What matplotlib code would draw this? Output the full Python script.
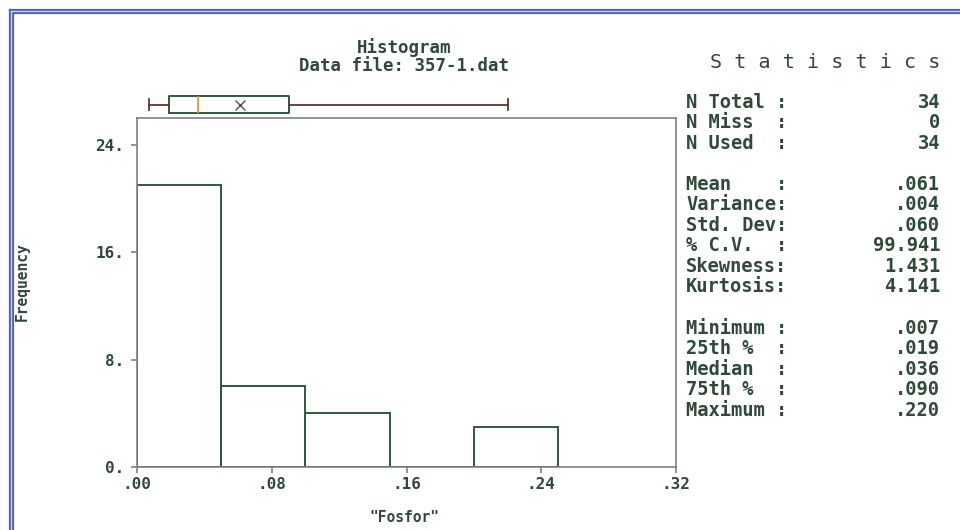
import matplotlib.pyplot as plt
from matplotlib.lines import Line2D

# histogram bins and counts
bin_edges = [0.00, 0.05, 0.10, 0.15, 0.20, 0.25]
counts = [21, 6, 4, 0, 3]

x_ticks = [0.00, 0.08, 0.16, 0.24, 0.32]
x_labels = [".00", ".08", ".16", ".24", ".32"]
y_ticks = [0, 8, 16, 24]
y_labels = ["0.", "8.", "16.", "24."]

# summary stats (box plot on top)
minimum, q25, median, q75, maximum = 0.007, 0.019, 0.036, 0.090, 0.220
mean = 0.061

stat_names = ["N Total :", "N Miss  :", "N Used  :", "",
              "Mean    :", "Variance:", "Std. Dev:", "% C.V.  :", "Skewness:", "Kurtosis:", "",
              "Minimum :", "25th %  :", "Median  :", "75th %  :", "Maximum :"]
stat_values = ["34", "0", "34", "",
               ".061", ".004", ".060", "99.941", "1.431", "4.141", "",
               ".007", ".019", ".036", ".090", ".220"]

W, H = 960, 530
txt = "#2f4a3a"
bar_col = "#2e5a3a"
spine_col = "#808080"
mono = "DejaVu Sans Mono"

fig = plt.figure(figsize=(W / 100, H / 100), dpi=100)
fig.patch.set_facecolor("white")


def fx(px):
    return px / W


def fy(py):
    return 1 - py / H


# double blue frame, top and left only
for off in [9.5, 12.5]:
    fig.add_artist(Line2D([fx(off), 1], [fy(off), fy(off)], color="#4f5fb0", lw=1.6))
    fig.add_artist(Line2D([fx(off), fx(off)], [fy(off), 0], color="#4f5fb0", lw=1.6))
fig.add_artist(Line2D([fx(11), 1], [fy(11), fy(11)], color="#c8ccf0", lw=1.0))
fig.add_artist(Line2D([fx(11), fx(11)], [fy(11), 0], color="#c8ccf0", lw=1.0))

# histogram
left, right, top, bottom = 137, 676, 118, 467
ax = fig.add_axes([fx(left), fy(bottom), fx(right - left), (bottom - top) / H])
widths = [bin_edges[i + 1] - bin_edges[i] for i in range(len(counts))]
ax.bar(bin_edges[:-1], counts, width=widths, align="edge", fill=False,
       edgecolor=bar_col, linewidth=1.4)
ax.set_xlim(0, 0.32)
ax.set_ylim(0, 26)
ax.set_xticks(x_ticks)
ax.set_xticklabels(x_labels)
ax.set_yticks(y_ticks)
ax.set_yticklabels(y_labels)
for s in ax.spines.values():
    s.set_color(spine_col)
    s.set_linewidth(1.2)
ax.tick_params(colors=spine_col, length=4, width=1.2, labelcolor=txt, labelsize=11.5, pad=3)
ax.tick_params(axis="y", pad=5)
for lab in ax.get_xticklabels() + ax.get_yticklabels():
    lab.set_fontfamily(mono)
    lab.set_fontweight("bold")

# box plot strip
bx = fig.add_axes([fx(left), fy(118), fx(right - left), 27 / H])
stats = [{"med": median, "q1": q25, "q3": q75, "whislo": minimum, "whishi": maximum,
          "mean": mean, "fliers": []}]
bx.bxp(stats, positions=[0.5], widths=0.63, capwidths=0.42, orientation="horizontal",
       showmeans=True, showfliers=False,
       boxprops=dict(color=bar_col, linewidth=1.4),
       medianprops=dict(color="#d0a030", linewidth=1.3),
       whiskerprops=dict(color="#5a3838", linewidth=1.3),
       capprops=dict(color="#5a3838", linewidth=1.3),
       meanprops=dict(marker="x", markeredgecolor="#505050", markersize=7, markeredgewidth=1))
bx.set_xlim(0, 0.32)
bx.set_ylim(0, 1)
bx.axis("off")

# axis labels
fig.text(fx(404), fy(518), '"Fosfor"', family=mono, weight="bold", size=10.5, color=txt,
         ha="center", va="center")
fig.text(fx(22), fy(282), "Frequency", family=mono, weight="bold", size=10.5, color=txt,
         ha="center", va="center", rotation=90)

# titles
fig.text(fx(404), fy(48), "Histogram", family=mono, weight="bold", size=12.5, color=txt,
         ha="center", va="center")
fig.text(fx(404), fy(66), "Data file: 357-1.dat", family=mono, weight="bold", size=12.5,
         color=txt, ha="center", va="center")
fig.text(fx(940), fy(62), "S t a t i s t i c s", family=mono, size=14.5, color=txt,
         ha="right", va="center")

# statistics table
y0, dy = 102, 20.55
for i, (name, val) in enumerate(zip(stat_names, stat_values)):
    if not name:
        continue
    y = y0 + i * dy
    fig.text(fx(686), fy(y), name, family=mono, weight="bold", size=13.5, color=txt,
             ha="left", va="center")
    fig.text(fx(940), fy(y), val, family=mono, weight="bold", size=13.5, color=txt,
             ha="right", va="center")

fig.savefig("out.png", dpi=100)
